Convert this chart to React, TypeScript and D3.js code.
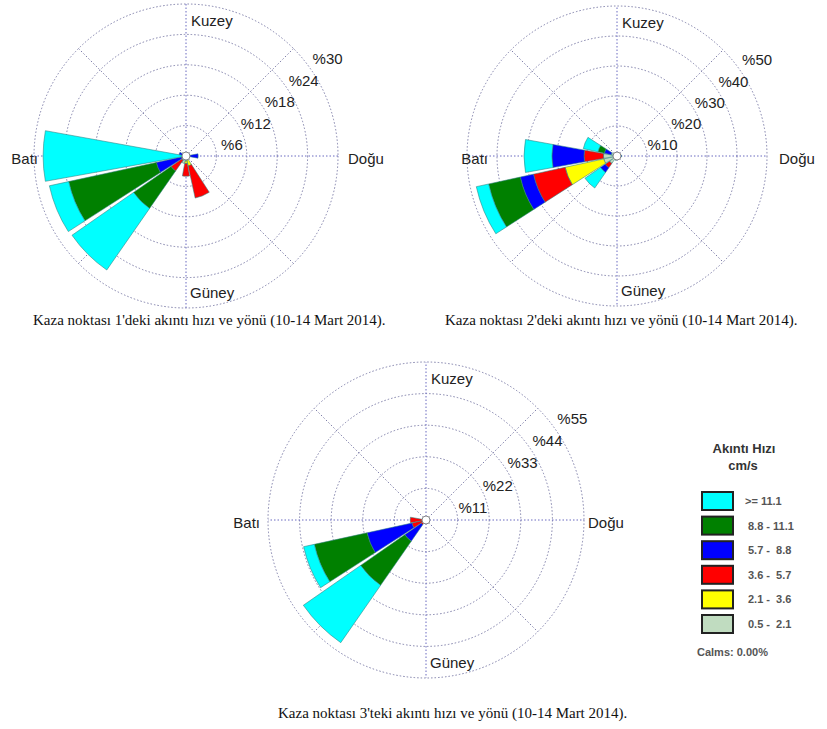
import React from "react";
import * as d3 from "d3";

// 16 compass directions, clockwise from north
const DIRECTIONS = ["N","NNE","NE","ENE","E","ESE","SE","SSE","S","SSW","SW","WSW","W","WNW","NW","NNW"];

// speed classes, inner -> outer stacking order
const SPEED_BINS = ["0.5 - 2.1","2.1 - 3.6","3.6 - 5.7","5.7 - 8.8","8.8 - 11.1",">= 11.1"];
const BIN_COLORS = ["#c0dcc0","#ffff00","#ff0000","#0000ff","#008000","#00ffff"];

// legend rows (top -> bottom)
const LEGEND_LABELS = [">= 11.1","8.8 - 11.1","5.7 -  8.8","3.6 -  5.7","2.1 -  3.6","0.5 -  2.1"];
const LEGEND_COLORS = ["#00ffff","#008000","#0000ff","#ff0000","#ffff00","#c0dcc0"];

// percent per direction per speed class (inner -> outer)
const station1: number[][] = [
  [0,0,0,0,0,0],[0,0,0,0,0,0],[0,0,0,0,0,0],[0,0,0,0,0,0],
  [0.6,0,0,1.8,0,0],[0,0,0,0,0,0],[0,0,0,0,0,0],[0.8,1.2,6.5,0,0,0],
  [1.0,0.5,2.5,0,0,0],[1.5,0,0,0,0,0],[1.0,0,2.6,0,9.0,14.8],[0.5,0,0.5,5.0,17.7,3.9],
  [0.3,0,0,0.5,0,27.4],[0.4,0,0,1.0,0,0],[0,0,0,0,0,0],[0,0,0,0,0,0],
];
const station2: number[][] = [
  [0,0,0,0,0,0],[0,0,0,0,0,0],[0,0,0,0,0,0],[0,0,0,0,0,0],
  [0.8,0,0.5,0.3,0,0],[0,0,0,0,0,0],[0,0,0,0,0,0],[0,0,0,0,0,0],
  [0,0,0,0,0,0],[1.5,0,0,0,0,0],[3.0,0,1.8,1.9,0,6.3],[4.5,13.2,10.8,4.5,10.8,4.2],
  [4.5,0,6.5,10.7,0,9.3],[2.0,0,0,2.3,2.2,5.0],[0,0,0,0,0,0],[0,0,0,0,0,0],
];
const station3: number[][] = [
  [0,0,0,0,0,0],[0,0,0,0,0,0],[0,0,0,0,0,0],[0,0,0,0,0,0],
  [0,0,0,0,0,0],[0,0,0,0,0,0],[0,0,0,0,0,0],[0,0,0,0,0,0],
  [0,0,0,0,0,0],[0,0,0,0,0,0],[1.0,0,1.0,7.0,18.7,24.3],[1.0,0,4.0,16.0,18.8,3.8],
  [1.0,0,4.5,0,0,0],[0,0,0,0,0,0],[0,0,0,0,0,0],[0,0,0,0,0,0],
];

const ticks1 = [6,12,18,24,30];
const ticks2 = [10,20,30,40,50];
const ticks3 = [11,22,33,44,55];

const CARDINALS = ["Kuzey","Doğu","Güney","Batı"];

const captions = [
  "Kaza noktası 1'deki akıntı hızı ve yönü (10-14 Mart 2014).",
  "Kaza noktası 2'deki akıntı hızı ve yönü (10-14 Mart 2014).",
  "Kaza noktası 3'teki akıntı hızı ve yönü (10-14 Mart 2014).",
];

const LEGEND_TITLE = ["Akıntı Hızı","cm/s"];
const CALMS = "Calms: 0.00%";

const SANS = "'Liberation Sans', Arial, sans-serif";
const SERIF = "'Liberation Serif', 'Times New Roman', serif";

type RoseProps = {
  data: number[][];
  ticks: number[];
  cx: number;
  cy: number;
  R: number;
  batiEnd: number;
};

function Rose({ data, ticks, cx, cy, R, batiEnd }: RoseProps) {
  const maxV = ticks[ticks.length - 1];
  const r = d3.scaleLinear().domain([0, maxV]).range([0, R]);
  const step = (2 * Math.PI) / DIRECTIONS.length;
  const half = (10.2 * Math.PI) / 180;
  const arc = d3.arc<any>();
  const petals: JSX.Element[] = [];
  data.forEach((row, di) => {
    const a = di * step;
    let acc = 0;
    row.forEach((v, bi) => {
      if (v <= 0) return;
      const inner = acc;
      acc += v;
      const d = arc({
        innerRadius: r(inner),
        outerRadius: r(acc),
        startAngle: a - half,
        endAngle: a + half,
      }) as string;
      petals.push(
        <path key={`${di}-${bi}`} d={d} fill={BIN_COLORS[bi]} stroke="#2f7f7f" strokeWidth={0.7} strokeOpacity={0.8} />
      );
    });
  });
  const gridColor = "#8080aa";
  const spokeColor = "#6a6ac0";
  return (
    <g transform={`translate(${cx},${cy})`}>
      {ticks.map((t) => (
        <circle key={t} r={r(t)} fill="none" stroke={gridColor} strokeWidth={1} strokeDasharray="1.5,2" />
      ))}
      {d3.range(8).map((i) => {
        const ang = (i * Math.PI) / 4;
        const x = Math.sin(ang) * R;
        const y = -Math.cos(ang) * R;
        return (
          <line key={i} x1={0} y1={0} x2={x} y2={y}
            stroke={i % 2 === 0 ? spokeColor : gridColor} strokeWidth={1} strokeDasharray="1.5,2" />
        );
      })}
      {petals}
      <circle r={4} fill="#fff" stroke="#888" strokeWidth={1} />
      {ticks.map((t) => {
        const rr = r(t);
        const px = rr * Math.SQRT1_2 + 22 + 0.08 * rr;
        const py = -rr * Math.SQRT1_2 + 10;
        return (
          <text key={t} x={px} y={py} textAnchor="middle" dominantBaseline="central"
            fontFamily={SANS} fontSize={15} fill="#222">{`%${t}`}</text>
        );
      })}
      <text x={5} y={-R + 22} fontFamily={SANS} fontSize={15} fill="#222">{CARDINALS[0]}</text>
      <text x={162} y={8} fontFamily={SANS} fontSize={15} fill="#222">{CARDINALS[1]}</text>
      <text x={4} y={R - 10} fontFamily={SANS} fontSize={15} fill="#222">{CARDINALS[2]}</text>
      <text x={batiEnd} y={8} textAnchor="end" fontFamily={SANS} fontSize={15} fill="#222">{CARDINALS[3]}</text>
    </g>
  );
}

export default function App() {
  return (
    <svg width={827} height={729} style={{ position: "absolute", left: 0, top: 0, background: "#fff" }}>
      <rect width={827} height={729} fill="#fff" />
      <Rose data={station1} ticks={ticks1} cx={186} cy={156} R={152} batiEnd={-148} />
      <Rose data={station2} ticks={ticks2} cx={617} cy={156} R={150} batiEnd={-129} />
      <Rose data={station3} ticks={ticks3} cx={426} cy={520} R={158} batiEnd={-166} />

      <text x={33} y={325} fontFamily={SERIF} fontSize={15} fill="#111">{captions[0]}</text>
      <text x={445} y={325} fontFamily={SERIF} fontSize={15} fill="#111">{captions[1]}</text>
      <text x={278} y={718} fontFamily={SERIF} fontSize={15} fill="#111">{captions[2]}</text>

      <g fontFamily={SANS}>
        <text x={744} y={453} textAnchor="middle" fontSize={13} fontWeight="bold" fill="#333">{LEGEND_TITLE[0]}</text>
        <text x={743} y={470} textAnchor="middle" fontSize={13} fontWeight="bold" fill="#333">{LEGEND_TITLE[1]}</text>
        {LEGEND_LABELS.map((lab, i) => {
          const y = 492 + i * 24.6;
          return (
            <g key={lab}>
              <rect x={702} y={y} width={31} height={18} fill={LEGEND_COLORS[i]} stroke="#222" strokeWidth={2} />
              <text x={i === 0 ? 745 : 748} y={y + 13} fontSize={11} fontWeight="bold" fill="#555" style={{ whiteSpace: "pre" }}>{lab}</text>
            </g>
          );
        })}
        <text x={697} y={656} fontSize={11} fontWeight="bold" fill="#555">{CALMS}</text>
      </g>
    </svg>
  );
}
